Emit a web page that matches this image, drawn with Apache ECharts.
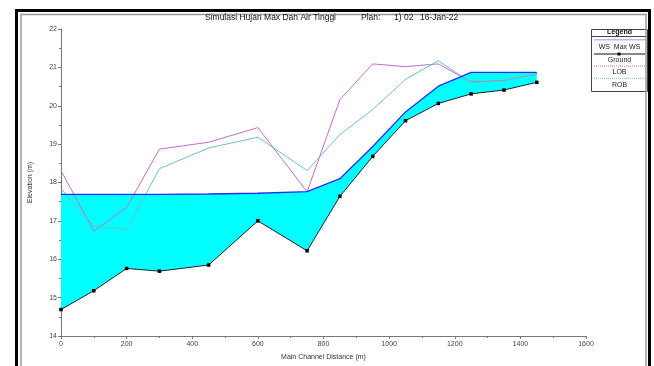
<!DOCTYPE html>
<html>
<head>
<meta charset="utf-8">
<script src="https://cdn.jsdelivr.net/npm/echarts@6/dist/echarts.min.js"></script>
<style>html,body{margin:0;padding:0;background:#fff}#c{width:654px;height:366px}</style>
</head>
<body>
<div id="c"></div>
<script>
var distance = [0, 100, 200, 300, 450, 600, 750, 850, 950, 1050, 1150, 1250, 1350, 1450];
var ground   = [14.69, 15.18, 15.76, 15.69, 15.85, 17.00, 16.22, 17.64, 18.68, 19.61, 20.06, 20.31, 20.41, 20.61];
var wsMax    = [17.69, 17.69, 17.69, 17.69, 17.70, 17.72, 17.76, 18.10, 18.94, 19.84, 20.51, 20.87, 20.87, 20.87];
var lob      = [18.31, 16.73, 17.35, 18.87, 19.05, 19.43, 17.76, 20.16, 21.09, 21.02, 21.09, 20.62, 20.66, 20.83];
var rob      = [17.84, 16.86, 16.78, 18.36, 18.90, 19.18, 18.31, 19.25, 19.90, 20.69, 21.17, 20.60, 20.65, 20.83];
var xTicks   = [0, 200, 400, 600, 800, 1000, 1200, 1400, 1600];
var yTicks   = [14, 15, 16, 17, 18, 19, 20, 21, 22];

function pairs(xs, ys) { return xs.map(function (x, i) { return [x, ys[i]]; }); }

var chart = echarts.init(document.getElementById('c'), null, {renderer: 'canvas'});
var font = 'Liberation Sans, Arial, sans-serif';

var legendItems = [
  {type: 'rect', shape: {x: 591.5, y: 29.5, width: 56, height: 62}, style: {fill: '#fff', stroke: '#444', lineWidth: 1}},
  {type: 'text', style: {x: 619.5, y: 32.5, text: 'Legend', font: 'bold 7px ' + font, fill: '#111', textAlign: 'center', textVerticalAlign: 'middle'}},
  {type: 'line', shape: {x1: 592, y1: 36.5, x2: 647, y2: 36.5}, style: {stroke: '#444', lineWidth: 1}},
  {type: 'line', shape: {x1: 594, y1: 39.7, x2: 645, y2: 39.7}, style: {stroke: '#b8b8ff', lineWidth: 1.5}},
  {type: 'text', style: {x: 619.5, y: 47.5, text: 'WS  Max WS', font: '7px ' + font, fill: '#222', textAlign: 'center', textVerticalAlign: 'middle'}},
  {type: 'line', shape: {x1: 594, y1: 54, x2: 645, y2: 54}, style: {stroke: '#111', lineWidth: 1}},
  {type: 'rect', shape: {x: 617.5, y: 52.5, width: 3, height: 3}, style: {fill: '#000'}},
  {type: 'text', style: {x: 619.5, y: 60, text: 'Ground', font: '7px ' + font, fill: '#222', textAlign: 'center', textVerticalAlign: 'middle'}},
  {type: 'line', shape: {x1: 594, y1: 66, x2: 645, y2: 66}, style: {stroke: '#c070c8', lineWidth: 1, lineDash: [1, 1]}},
  {type: 'text', style: {x: 619.5, y: 72.3, text: 'LOB', font: '7px ' + font, fill: '#222', textAlign: 'center', textVerticalAlign: 'middle'}},
  {type: 'line', shape: {x1: 594, y1: 78.3, x2: 645, y2: 78.3}, style: {stroke: '#70c0c0', lineWidth: 1, lineDash: [1, 1]}},
  {type: 'text', style: {x: 619.5, y: 85, text: 'ROB', font: '7px ' + font, fill: '#222', textAlign: 'center', textVerticalAlign: 'middle'}}
];

var option = {
  backgroundColor: '#fff',
  animation: false,
  grid: {left: 61, top: 29, width: 525, height: 314, containLabel: false},
  xAxis: {
    type: 'value', min: 0, max: 1600, interval: 200,
    name: 'Main Channel Distance (m)', nameLocation: 'middle', nameGap: 18,
    nameTextStyle: {fontSize: 7, color: '#333', fontFamily: font},
    axisLine: {lineStyle: {color: '#777', width: 1}},
    axisTick: {show: true, length: 3, lineStyle: {color: '#777'}},
    minorTick: {show: true, splitNumber: 2, length: 2, lineStyle: {color: '#777'}},
    axisLabel: {fontSize: 7, color: '#444', margin: 5, fontFamily: font, formatter: function (v) { return String(v); }},
    splitLine: {show: false}
  },
  yAxis: {
    type: 'value', min: 14, max: 22, interval: 1,
    name: 'Elevation (m)', nameLocation: 'middle', nameGap: 27, nameRotate: 90,
    nameTextStyle: {fontSize: 7, color: '#333', fontFamily: font},
    axisLine: {show: true, lineStyle: {color: '#777', width: 1}},
    axisTick: {show: true, length: 3, lineStyle: {color: '#777'}},
    minorTick: {show: true, splitNumber: 2, length: 2, lineStyle: {color: '#777'}},
    axisLabel: {fontSize: 7, color: '#444', margin: 4, fontFamily: font, formatter: function (v) { return String(v); }},
    splitLine: {show: false}
  },
  graphic: [
    {type: 'rect', z: 100, shape: {x: 16.5, y: 10.5, width: 633, height: 420}, style: {fill: 'none', stroke: '#000', lineWidth: 3}},
    {type: 'rect', z: 100, shape: {x: 21, y: 14.5, width: 625, height: 420}, style: {fill: 'none', stroke: '#999', lineWidth: 1.5}},
    {type: 'text', z: 100, style: {x: 205, y: 18, text: 'Simulasi Hujan Max Dan Air Tinggi', font: '8.5px ' + font, fill: '#111', textVerticalAlign: 'middle'}},
    {type: 'text', z: 100, style: {x: 361, y: 18, text: 'Plan:', font: '8.5px ' + font, fill: '#111', textVerticalAlign: 'middle'}},
    {type: 'text', z: 100, style: {x: 394, y: 18, text: '1) 02', font: '8.5px ' + font, fill: '#111', textVerticalAlign: 'middle'}},
    {type: 'text', z: 100, style: {x: 420, y: 18, text: '16-Jan-22', font: '8.5px ' + font, fill: '#111', textVerticalAlign: 'middle'}},
    {type: 'group', z: 100, children: legendItems}
  ],
  series: [
    {
      type: 'custom', name: 'fill', z: 1,
      data: [[0, 14]],
      renderItem: function (params, api) {
        var pts = [];
        for (var i = 0; i < distance.length; i++) pts.push(api.coord([distance[i], wsMax[i]]));
        for (var j = distance.length - 1; j >= 0; j--) pts.push(api.coord([distance[j], ground[j]]));
        return {type: 'polygon', shape: {points: pts}, style: {fill: '#00ffff', stroke: 'none'}};
      },
      silent: true
    },
    {type: 'line', name: 'LOB', data: pairs(distance, lob), z: 3, showSymbol: false, lineStyle: {color: '#c070c8', width: 1}},
    {type: 'line', name: 'ROB', data: pairs(distance, rob), z: 3, showSymbol: false, lineStyle: {color: '#6cc0c0', width: 1}},
    {type: 'line', name: 'WS Max WS', data: pairs(distance, wsMax), z: 4, showSymbol: false, lineStyle: {color: '#2a2aff', width: 1.3}},
    {type: 'line', name: 'Ground', data: pairs(distance, ground), z: 5, symbol: 'rect', symbolSize: 3.5, itemStyle: {color: '#000'}, lineStyle: {color: '#222', width: 1}}
  ]
};
chart.setOption(option);
</script>
</body>
</html>
